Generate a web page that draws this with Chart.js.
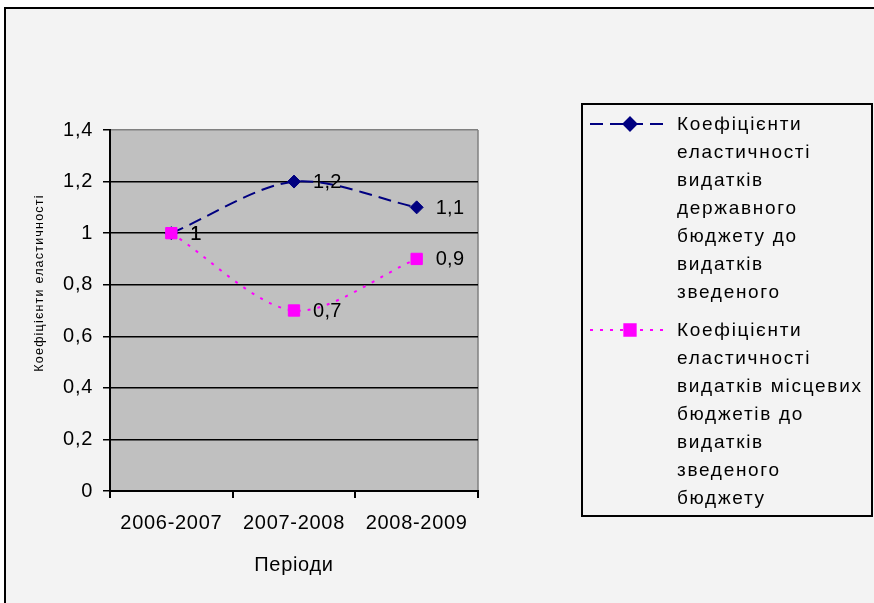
<!DOCTYPE html>
<html><head><meta charset="utf-8">
<script src="https://cdn.jsdelivr.net/npm/chart.js@4/dist/chart.umd.min.js"></script>
<style>html,body{margin:0;padding:0;background:#fff}canvas{display:block}</style>
</head><body>
<canvas id="c" width="874" height="603"></canvas>
<script>
const categories = ['2006-2007', '2007-2008', '2008-2009'];
const stateBudget = [1, 1.2, 1.1];
const localBudgets = [1, 0.7, 0.9];
const yTicks = [0, 0.2, 0.4, 0.6, 0.8, 1, 1.2, 1.4];
const legendLines = [
  ['Коефіцієнти', 'еластичності', 'видатків', 'державного', 'бюджету до', 'видатків', 'зведеного'],
  ['Коефіцієнти', 'еластичності', 'видатків місцевих', 'бюджетів до', 'видатків', 'зведеного', 'бюджету']
];
const yTitle = 'Коефіцієнти еластичності';
const xTitle = 'Періоди';

const FONT = '"Liberation Sans", Arial, sans-serif';
const fmt = v => String(Math.round(v * 100) / 100).replace('.', ',');

const spacingPlugin = {
  id: 'spacing',
  beforeUpdate(chart) { chart.ctx.letterSpacing = '0.7px'; },
  beforeDraw(chart) { chart.ctx.letterSpacing = '0.7px'; }
};

const framePlugin = {
  id: 'frame',
  beforeDraw(chart) {
    const ctx = chart.ctx, a = chart.chartArea;
    ctx.save();
    ctx.fillStyle = '#ffffff';
    ctx.fillRect(0, 0, chart.width, chart.height);
    ctx.fillStyle = '#f3f3f3';
    ctx.fillRect(5, 8, chart.width - 5, chart.height - 8);
    ctx.strokeStyle = '#000';
    ctx.lineWidth = 2;
    ctx.beginPath();
    ctx.moveTo(5, chart.height); ctx.lineTo(5, 8); ctx.lineTo(chart.width, 8);
    ctx.stroke();
    ctx.fillStyle = '#c0c0c0';
    ctx.fillRect(a.left, a.top, a.right - a.left, a.bottom - a.top);
    ctx.strokeStyle = '#808080';
    ctx.lineWidth = 1.5;
    ctx.beginPath();
    ctx.moveTo(a.right, a.top); ctx.lineTo(a.right, a.bottom);
    ctx.stroke();
    // y axis title
    ctx.translate(40, 283);
    ctx.rotate(-Math.PI / 2);
    ctx.letterSpacing = '1.2px';
    ctx.fillStyle = '#000';
    ctx.font = '12.5px ' + FONT;
    ctx.textAlign = 'center';
    ctx.textBaseline = 'middle';
    ctx.fillText(yTitle, 0, 0);
    ctx.restore();
  }
};

const labelPlugin = {
  id: 'labels',
  afterDatasetsDraw(chart) {
    const ctx = chart.ctx;
    ctx.save();
    ctx.letterSpacing = '0.3px';
    ctx.fillStyle = '#000';
    ctx.font = '20px ' + FONT;
    ctx.textAlign = 'left';
    ctx.textBaseline = 'middle';
    chart.data.datasets.forEach((ds, i) => {
      const meta = chart.getDatasetMeta(i);
      meta.data.forEach((p, j) => {
        ctx.fillText(fmt(ds.data[j]), p.x + 19, p.y + 1);
      });
    });
    ctx.restore();
  }
};

const legendPlugin = {
  id: 'customLegend',
  afterDraw(chart) {
    const ctx = chart.ctx;
    ctx.save();
    ctx.strokeStyle = '#000';
    ctx.lineWidth = 2;
    ctx.strokeRect(582, 104, 290, 412);
    let y = 124;
    chart.data.datasets.forEach((ds, i) => {
      ctx.save();
      ctx.strokeStyle = ds.borderColor;
      ctx.lineWidth = ds.borderWidth;
      ctx.setLineDash(ds.borderDash);
      ctx.beginPath();
      ctx.moveTo(590, y); ctx.lineTo(670, y);
      ctx.stroke();
      ctx.setLineDash([]);
      ctx.fillStyle = ds.backgroundColor;
      Chart.helpers.drawPoint(ctx, {pointStyle: ds.pointStyle, radius: ds.pointRadius, borderWidth: 1, rotation: 0}, 630, y);
      ctx.fill();
      ctx.restore();
      ctx.letterSpacing = '1.7px';
      ctx.fillStyle = '#000';
      ctx.font = '19px ' + FONT;
      ctx.textAlign = 'left';
      ctx.textBaseline = 'middle';
      legendLines[i].forEach(line => {
        ctx.fillText(line, 677, y + 1);
        y += 28;
      });
      y += 10;
    });
    ctx.restore();
  }
};

new Chart(document.getElementById('c').getContext('2d'), {
  type: 'line',
  data: {
    labels: categories,
    datasets: [
      {
        label: legendLines[0].join(' '), data: stateBudget,
        borderColor: '#000080', backgroundColor: '#000080',
        borderWidth: 2, borderDash: [13, 7],
        pointStyle: 'rectRot', pointRadius: 6.5, pointBorderWidth: 1,
        tension: 0.3, order: 1
      },
      {
        label: legendLines[1].join(' '), data: localBudgets,
        borderColor: '#ff00ff', backgroundColor: '#ff00ff',
        borderWidth: 2, borderDash: [3, 7],
        pointStyle: 'rect', pointRadius: 8, pointBorderWidth: 1,
        tension: 0.3, order: 0
      }
    ]
  },
  options: {
    responsive: false, animation: false, devicePixelRatio: 1,
    layout: {padding: {top: 130, right: 396, left: 0, bottom: 0}},
    plugins: {legend: {display: false}, tooltip: {enabled: false}},
    scales: {
      x: {
        offset: true,
        grid: {offset: true, drawOnChartArea: false, drawTicks: true, tickLength: 7, color: '#000', lineWidth: 2},
        border: {color: '#000', width: 2},
        ticks: {color: '#000', font: {family: FONT, size: 20}, padding: 13, maxRotation: 0, autoSkip: false},
        title: {display: true, text: xTitle, color: '#000', font: {family: FONT, size: 20}, padding: {bottom: 26, top: 0}},
        afterFit: s => { s.height = 112; }
      },
      y: {
        min: 0, max: 1.4,
        afterBuildTicks: s => { s.ticks = yTicks.map(v => ({value: v})); },
        ticks: {color: '#000', font: {family: FONT, size: 20}, padding: 10, callback: v => fmt(v)},
        grid: {color: c => (c.tick && c.tick.value > 1.35) ? '#808080' : '#000', tickColor: '#000', tickLength: 7, lineWidth: 1.5},
        border: {color: '#000', width: 2},
        afterFit: s => { s.width = 110; }
      }
    }
  },
  plugins: [spacingPlugin, framePlugin, labelPlugin, legendPlugin]
});
</script>
</body></html>
